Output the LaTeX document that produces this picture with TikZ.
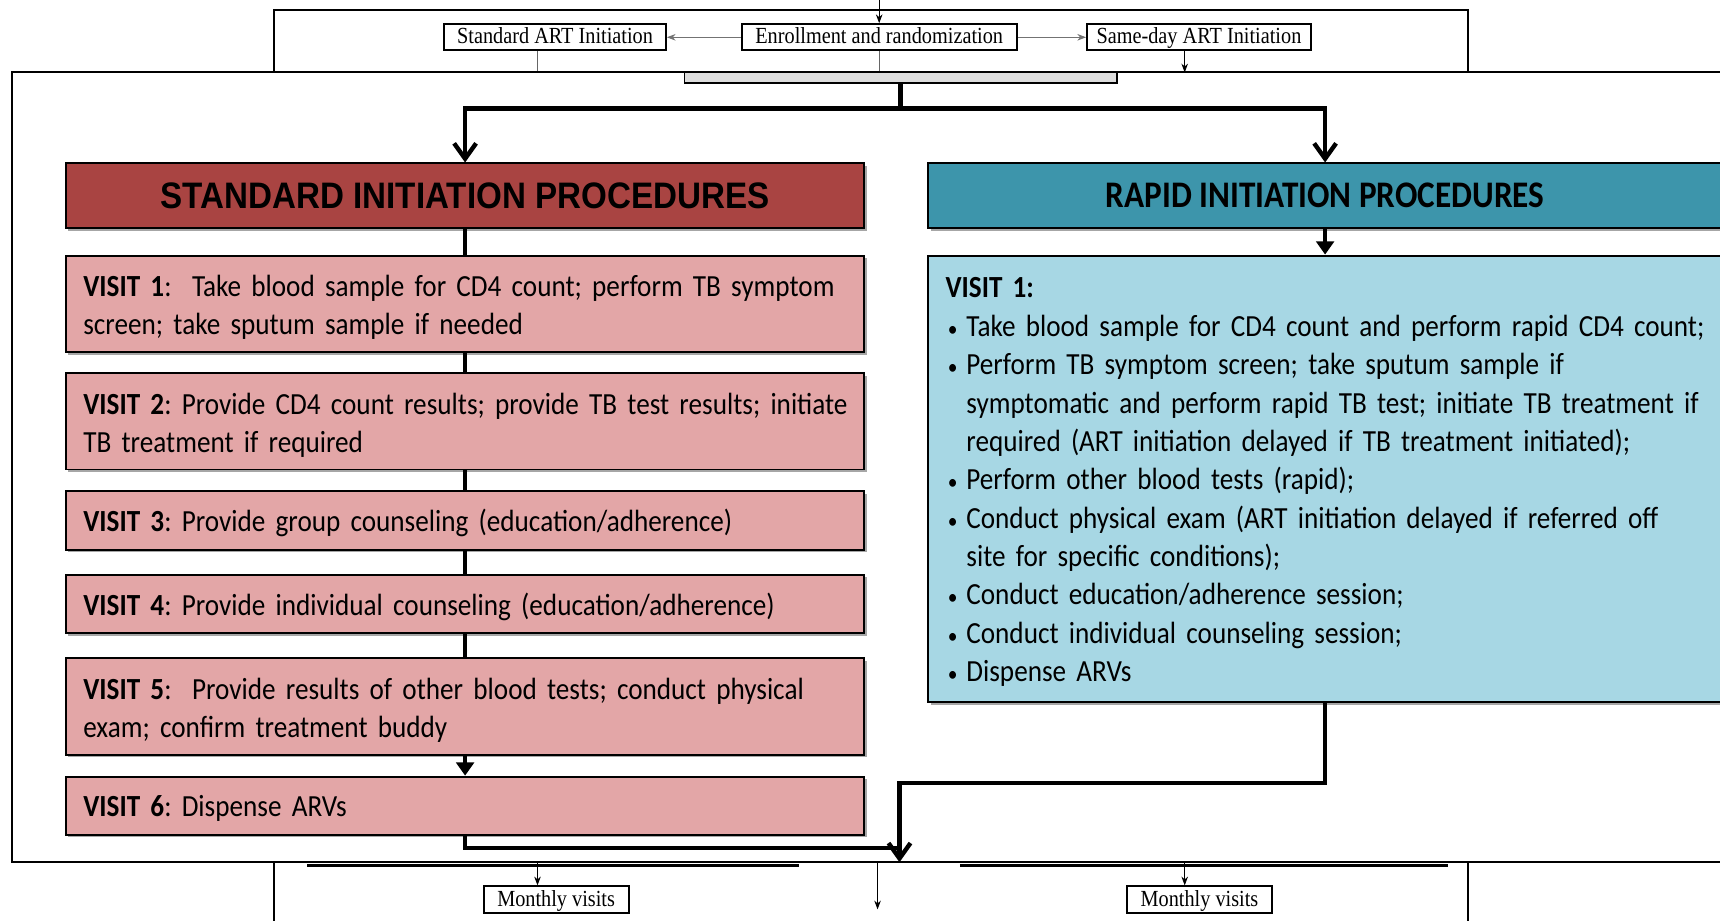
\documentclass[tikz,border=0pt]{standalone}
\usepackage{fontspec}
\setmainfont{Carlito}[FakeStretch=0.885]
\newfontfamily\timesf{Liberation Serif}[FakeStretch=0.88]
\newfontfamily\arialf{Liberation Sans}[FakeStretch=0.9]
\usetikzlibrary{arrows.meta,calc,shadows}
\definecolor{stdred}{HTML}{A94442}
\definecolor{rapidteal}{HTML}{3D95AB}
\definecolor{pinkbox}{HTML}{E3A6A7}
\definecolor{bluebox}{HTML}{A7D7E4}
\definecolor{barg}{HTML}{DCDCDC}
\newcommand{\lns}[1]{\begin{tabular}{@{}l@{}}#1\end{tabular}}
\newcommand{\bul}{\hspace{1pt}{\fontsize{10}{10}\selectfont•}}
\newcommand{\dn}[1]{\vspace*{#1}}
\begin{document}
\frenchspacing
\begin{tikzpicture}[x=0.5pt,y=-0.5pt,
  tbox/.style={draw, line width=0.9pt, fill=white, inner sep=0pt, minimum height=12pt,
    text height=7pt, text depth=1pt, font=\timesf\fontsize{10.5}{12}\selectfont},
  hair/.style={line width=0.4pt},
  thinarrow/.style={line width=0.4pt, -{Stealth[length=4pt,width=3pt]}},
  conn/.style={line width=2pt},
  barb/.style={conn, -{Straight Barb[length=7pt,width=10pt]}},
  tri/.style={conn, -{Triangle[length=6pt,width=8pt]}},
  shad/.style={drop shadow={shadow xshift=1.2pt, shadow yshift=-1.2pt, fill=black, opacity=0.35}},
  hdr/.style={draw, line width=0.9pt, minimum height=29.5pt, inner sep=0pt, shad},
  visit/.style={draw, line width=0.9pt, fill=pinkbox, text width=348pt, align=left,
    inner xsep=8pt, inner ysep=0pt, shad, font=\fontsize{14}{17.2}\selectfont},
  rbox/.style={draw, line width=0.9pt, fill=bluebox, text width=346pt, align=left,
    inner xsep=8pt, inner ysep=0pt, minimum height=203.5pt, shad, font=\fontsize{14}{17.5}\selectfont},
]
\useasboundingbox (0,0) rectangle (1568,840);
\clip (0,0) rectangle (1568,840);
\fill[white] (0,0) rectangle (1568,840);

% ---------- background (partly hidden) diagram ----------
\draw[line width=0.8pt] (250,66) -- (250,9) -- (1338,9) -- (1338,66);
\draw[line width=0.8pt] (250,786) -- (250,840);
\draw[line width=0.8pt] (1338,786) -- (1338,840);

\node[tbox, minimum width=101pt] (stdart) at (506,34) {Standard ART Initiation};
\node[tbox, minimum width=125.5pt] (enroll) at (801.5,34) {Enrollment and randomization};
\node[tbox, minimum width=102pt] (sameday) at (1093,34) {Same-day ART Initiation};

\coordinate (top) at (801.5,0);
\draw[thinarrow] (top) -- (enroll.north);
\draw[thinarrow, draw=black!55] (enroll.west) -- (stdart.east);
\draw[thinarrow, draw=black!55] (enroll.east) -- (sameday.west);

\coordinate (sa) at (490,66);
\coordinate (sd) at (1080,66);
\draw[hair, draw=black!60] (stdart.south -| sa) -- (sa);
\draw[hair, draw=black!60] (enroll.south) -- (enroll.south |- sa);
\draw[thinarrow] (sameday.south -| sd) -- (sd);

% ---------- overlay panel ----------
\draw[line width=1pt, fill=white] (11,66) rectangle (1600,786);

\node[draw, line width=0.9pt, fill=barg, minimum width=197pt, minimum height=5pt, inner sep=0pt] (bar) at (821,71) {};
\draw[line width=1pt] (11,66) -- (1600,66);

\node[hdr, fill=stdred, minimum width=364pt] (stdhdr) at (424,178.5)
  {\arialf\bfseries\fontsize{16.8}{18}\selectfont STANDARD INITIATION PROCEDURES};
\node[hdr, fill=rapidteal, minimum width=362pt] (rapidhdr) at (1208,178.5)
  {\bfseries\fontsize{17.1}{18}\selectfont RAPID INITIATION PROCEDURES};

\draw[barb] (bar.south) -- ++(0,22) -| (stdhdr.north);
\draw[barb] (bar.south) -- ++(0,22) -| (rapidhdr.north);

\node[visit, minimum height=44pt] (v1) at (424,277)
  {\dn{-4pt}\lns{\textbf{VISIT 1}:\ \ Take blood sample for CD4 count; perform TB symptom\\screen; take sputum sample if needed}};
\node[visit, minimum height=44pt] (v2) at (424,384)
  {\dn{-4pt}\lns{\textbf{VISIT 2}: Provide CD4 count results; provide TB test results; initiate\\TB treatment if required}};
\node[visit, minimum height=26.5pt] (v3) at (424,474.5)
  {\dn{-4pt}\textbf{VISIT 3}: Provide group counseling (education/adherence)};
\node[visit, minimum height=26.5pt] (v4) at (424,550.5)
  {\dn{-4pt}\textbf{VISIT 4}: Provide individual counseling (education/adherence)};
\node[visit, minimum height=44pt] (v5) at (424,644)
  {\dn{-4pt}\lns{\textbf{VISIT 5}:\ \ Provide results of other blood tests; conduct physical\\exam; confirm treatment buddy}};
\node[visit, minimum height=26.5pt] (v6) at (424,734.5)
  {\dn{-4pt}\textbf{VISIT 6}: Dispense ARVs};

\draw[conn] (stdhdr.south) -- (v1.north);
\draw[conn] (v1.south) -- (v2.north);
\draw[conn] (v2.south) -- (v3.north);
\draw[conn] (v3.south) -- (v4.north);
\draw[conn] (v4.south) -- (v5.north);
\draw[tri] (v5.south) -- (v6.north);

\node[rbox] (rapidbox) at (1208,436.5) {\dn{-3pt}%
\begin{tabular}{@{}p{9.5pt}@{}l@{}}
\multicolumn{2}{@{}l@{}}{\bfseries VISIT 1:}\\
\bul & Take blood sample for CD4 count and perform rapid CD4 count;\\
\bul & Perform TB symptom screen; take sputum sample if\\
 & symptomatic and perform rapid TB test; initiate TB treatment if\\
 & required (ART initiation delayed if TB treatment initiated);\\
\bul & Perform other blood tests (rapid);\\
\bul & Conduct physical exam (ART initiation delayed if referred off\\
 & site for specific conditions);\\
\bul & Conduct education/adherence session;\\
\bul & Conduct individual counseling session;\\
\bul & Dispense ARVs
\end{tabular}};

\draw[tri] (rapidhdr.south) -- (rapidbox.north);

\coordinate (mjoin) at (820,773);
\coordinate (mturn) at (820,714);
\coordinate (mend) at (820,786);
\draw[conn] (v6.south) |- (mjoin);
\draw[barb] (rapidbox.south) |- (mturn) -- (mend);

% ---------- bottom (partly hidden) diagram ----------
\draw[line width=1.5pt] (280,789) -- (728,789);
\draw[line width=1.5pt] (875,789) -- (1320,789);

\node[tbox, minimum width=66pt] (month1) at (507,820) {Monthly visits};
\node[tbox, minimum width=66.5pt] (month2) at (1093.5,820) {Monthly visits};

\coordinate (b1) at (490,787);
\coordinate (b2) at (800,787);
\coordinate (b2e) at (800,829);
\coordinate (b3) at (1080,787);
\draw[thinarrow] (b1) -- (b1 |- month1.north);
\draw[thinarrow] (b2) -- (b2e);
\draw[thinarrow] (b3) -- (b3 |- month2.north);
\end{tikzpicture}
\end{document}
